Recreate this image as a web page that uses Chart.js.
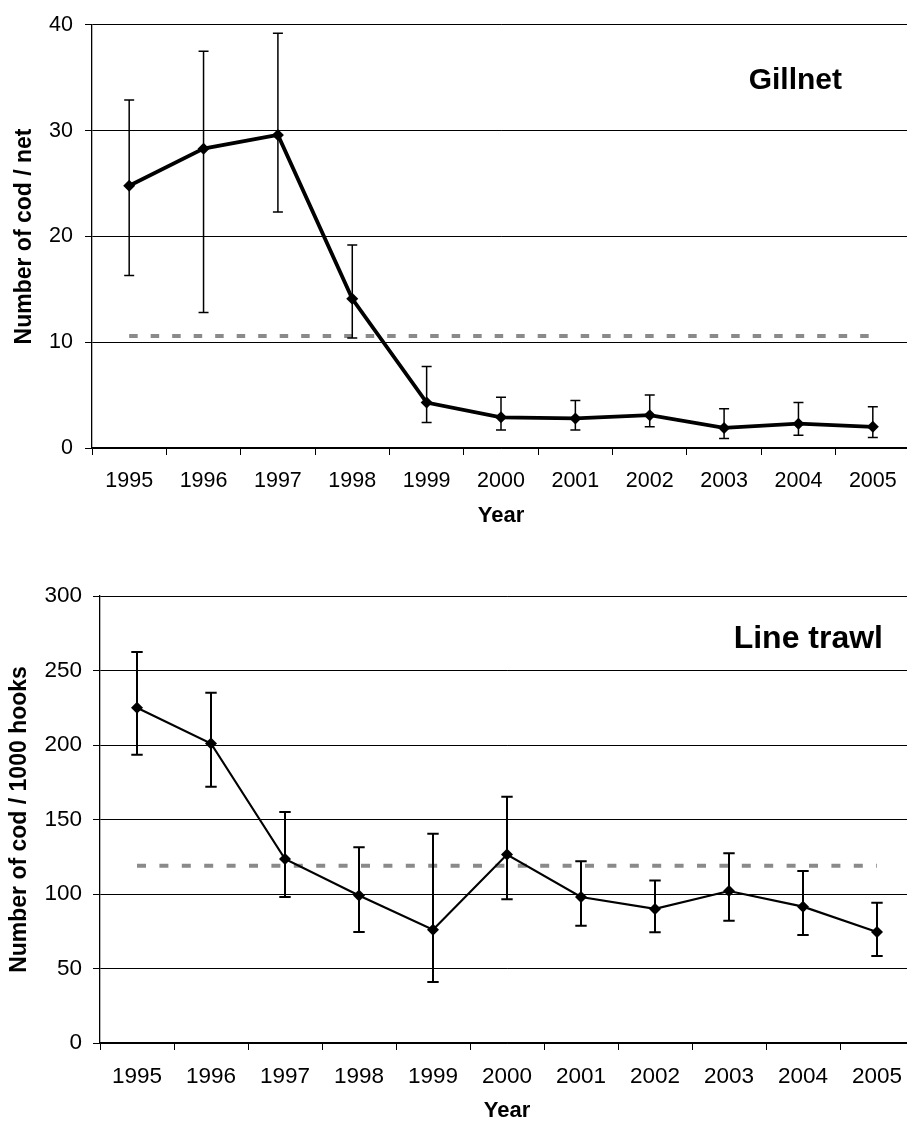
<!DOCTYPE html>
<html>
<head>
<meta charset="utf-8">
<script src="https://cdn.jsdelivr.net/npm/chart.js@4/dist/chart.umd.min.js"></script>
<style>
  html, body { margin: 0; padding: 0; background: #fff; overflow: hidden; }
  #wrap { position: relative; width: 907px; height: 1128px; overflow: hidden; }
  .box  { position: absolute; left: 0; width: 920px; }
</style>
</head>
<body>
<div id="wrap">
  <div class="box" style="top:0;height:560px"><canvas id="chart-gill"></canvas></div>
  <div class="box" style="top:560px;height:568px"><canvas id="chart-trawl"></canvas></div>
</div>
<script>
// ── Data ──────────────────────────────────────────────────────────────────

const YEARS = ['1995', '1996', '1997', '1998', '1999', '2000', '2001', '2002', '2003', '2004', '2005'];

const GILL_MEAN = [24.8, 28.3, 29.6, 14.1, 4.3, 2.9, 2.8, 3.1, 1.9, 2.3, 2.0];
const GILL_LOW  = [16.3, 12.8, 22.3, 10.4, 2.4, 1.7, 1.7, 2.0, 0.9, 1.2, 1.0];
const GILL_HIGH = [32.9, 37.5, 39.2, 19.2, 7.7, 4.8, 4.5, 5.0, 3.7, 4.3, 3.9];
const GILL_REF  = 10.6;

const TRAWL_MEAN = [225, 201, 123.5, 99, 76, 126.5, 98, 90, 102, 91.5, 74.5];
const TRAWL_LOW  = [193.5, 172, 98, 74.5, 41, 96.5, 78.7, 74.3, 82, 72.5, 58.4];
const TRAWL_HIGH = [262.5, 235, 155, 131.3, 140.5, 165.3, 122, 109, 127.3, 115.4, 94.2];
const TRAWL_REF  = 119;

const FONT = '"Liberation Sans", Arial, sans-serif';

// ── Plugins: error bars, dashed reference line, panel label ───────────────

const extrasPlugin = {
  id: 'extras',
  beforeDatasetsDraw(chart, args, opts) {
    const ctx  = chart.ctx;
    const meta = chart.getDatasetMeta(0);
    const y    = chart.scales.y;
    const x0   = meta.data[0].x;
    const x1   = meta.data[meta.data.length - 1].x;
    const py   = y.getPixelForValue(opts.ref);
    ctx.save();
    ctx.strokeStyle = '#8a8a8a';
    ctx.lineWidth = 4;
    ctx.setLineDash(opts.dash);
    ctx.beginPath();
    ctx.moveTo(x0, py);
    ctx.lineTo(x1, py);
    ctx.stroke();
    ctx.restore();
  },
  afterDatasetsDraw(chart, args, opts) {
    const ctx  = chart.ctx;
    const meta = chart.getDatasetMeta(0);
    const y    = chart.scales.y;
    ctx.save();
    ctx.strokeStyle = '#000';
    ctx.lineWidth = opts.errWidth;
    meta.data.forEach((pt, i) => {
      const lo = y.getPixelForValue(opts.low[i]);
      const hi = y.getPixelForValue(opts.high[i]);
      const c  = opts.cap;
      ctx.beginPath();
      ctx.moveTo(pt.x, lo); ctx.lineTo(pt.x, hi);
      ctx.moveTo(pt.x - c, lo); ctx.lineTo(pt.x + c, lo);
      ctx.moveTo(pt.x - c, hi); ctx.lineTo(pt.x + c, hi);
      ctx.stroke();
    });
    // panel label
    const a = chart.chartArea;
    ctx.fillStyle = '#000';
    ctx.font = 'bold ' + opts.labelSize + 'px ' + FONT;
    ctx.textAlign = 'right';
    ctx.textBaseline = 'alphabetic';
    ctx.fillText(opts.label, a.right - opts.labelRight, a.top + opts.labelTop);
    ctx.restore();
  }
};

// ── Chart builder ─────────────────────────────────────────────────────────

function mkChart(id, cfg) {
  const ctx = document.getElementById(id).getContext('2d');
  return new Chart(ctx, {
    type: 'line',
    data: {
      labels: YEARS,
      datasets: [{
        data: cfg.mean,
        borderColor: '#000',
        backgroundColor: '#000',
        borderWidth: cfg.lineWidth,
        pointStyle: 'rectRot',
        pointRadius: cfg.pointRadius,
        pointBorderWidth: 0,
        tension: 0,
      }],
    },
    options: {
      responsive: true,
      maintainAspectRatio: false,
      animation: false,
      layout: { padding: cfg.padding },
      plugins: {
        legend: { display: false },
        tooltip: { enabled: false },
        extras: {
          low: cfg.low, high: cfg.high, ref: cfg.ref, dash: cfg.dash,
          cap: cfg.cap, errWidth: cfg.errWidth,
          label: cfg.label, labelSize: cfg.labelSize,
          labelRight: cfg.labelRight, labelTop: cfg.labelTop,
        },
      },
      scales: {
        x: {
          type: 'category',
          offset: true,
          grid: { offset: true, drawOnChartArea: false, drawTicks: true, tickLength: 7, color: '#000', lineWidth: 1 },
          border: { color: '#000', width: 1.3 },
          ticks: { color: '#000', font: { family: FONT, size: cfg.tickSize }, padding: 13, maxRotation: 0, autoSkip: false },
          title: { display: true, text: 'Year', color: '#000', font: { family: FONT, size: 22, weight: 'bold' }, padding: 0 },
          afterFit(s) { s.height = 81; },
        },
        y: {
          min: 0, max: cfg.max,
          grid: { color: '#000', lineWidth: 1, tickLength: 7 },
          border: { color: '#000', width: 1.3 },
          ticks: { stepSize: cfg.step, color: '#000', font: { family: FONT, size: cfg.tickSize }, padding: cfg.tickPad },
          title: { display: true, text: cfg.yTitle, color: '#000', font: { family: FONT, size: 23, weight: 'bold' }, padding: { top: cfg.titlePad, bottom: 0 } },
          afterFit(s) { s.width = cfg.axisWidth; },
        },
      },
    },
    plugins: [extrasPlugin],
  });
}

mkChart('chart-gill', {
  mean: GILL_MEAN, low: GILL_LOW, high: GILL_HIGH, ref: GILL_REF,
  max: 40, step: 10, yTitle: 'Number of cod / net', tickSize: 21.5,
  lineWidth: 3.8, pointRadius: 6, errWidth: 1.5, cap: 5, dash: [8.5, 13],
  label: 'Gillnet', labelSize: 30, labelRight: 68, labelTop: 64,
  padding: { top: 20, right: 10, left: 0, bottom: 31 },
  axisWidth: 92, tickPad: 12, titlePad: 11,
});

mkChart('chart-trawl', {
  mean: TRAWL_MEAN, low: TRAWL_LOW, high: TRAWL_HIGH, ref: TRAWL_REF,
  max: 300, step: 50, yTitle: 'Number of cod / 1000 hooks', tickSize: 22.5,
  lineWidth: 2.2, pointRadius: 6, errWidth: 2, cap: 5.7, dash: [9, 13.4],
  label: 'Line trawl', labelSize: 32, labelRight: 31, labelTop: 52,
  padding: { top: 36, right: 2.4, left: 0, bottom: 4 },
  axisWidth: 100, tickPad: 11, titlePad: 6,
});
</script>
</body>
</html>
